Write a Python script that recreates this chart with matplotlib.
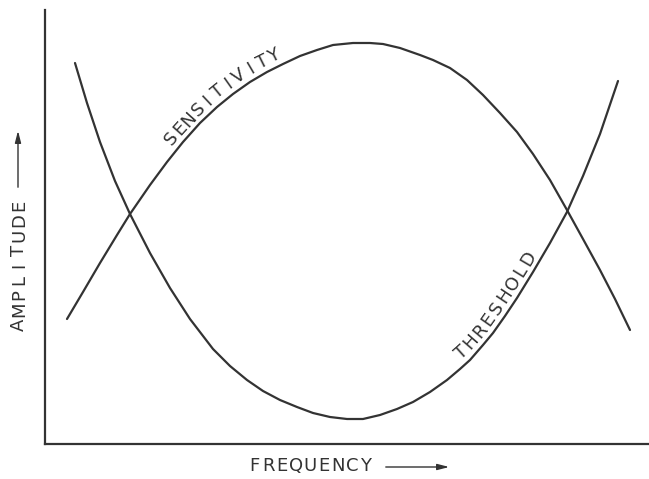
import numpy as np
import matplotlib.pyplot as plt

# curve points (frequency, amplitude; arbitrary units)
sens_x = [22, 38, 55, 72, 85, 105, 122, 138, 155, 172, 188, 205, 222, 238, 255, 272, 288, 308,
          325, 338, 355, 375, 388, 405, 422, 438, 455, 472, 488, 505, 522, 538, 555, 570, 585]
sens_y = [125, 152, 181, 209, 230, 259, 282, 302, 321, 337, 350, 362, 372, 380, 388, 394, 399, 401,
          401, 400, 396, 389, 384, 376, 364, 349, 331, 312, 290, 264, 234, 205, 174, 145, 114]

thr_x = [30, 42, 55, 70, 85, 105, 125, 145, 168, 185, 202, 218, 235, 252, 268, 285, 302, 318,
         335, 352, 368, 385, 402, 415, 425, 438, 448, 460, 472, 488, 505, 522, 538, 555, 573]
thr_y = [381, 341, 302, 263, 230, 191, 156, 125, 95, 78, 64, 53, 44, 37, 31, 27, 25, 25,
         29, 35, 42, 52, 64, 75, 84, 99, 111, 128, 146, 172, 201, 232, 268, 310, 363]

x_label = 'FREQUENCY'
y_label = 'AMPLITUDE'

ink = '#333333'

fig = plt.figure(figsize=(6.49, 4.79), dpi=100)
ax = fig.add_axes([45 / 649, 35 / 479, 604 / 649, 434 / 479])
ax.set_xlim(0, 604)
ax.set_ylim(0, 434)
ax.set_xticks([])
ax.set_yticks([])
for side in ['top', 'right']:
    ax.spines[side].set_visible(False)
for side in ['left', 'bottom']:
    ax.spines[side].set_color(ink)
    ax.spines[side].set_linewidth(1.6)

ax.plot(sens_x, sens_y, color=ink, lw=1.6, solid_joinstyle='round', solid_capstyle='round')
ax.plot(thr_x, thr_y, color=ink, lw=1.6, solid_joinstyle='round', solid_capstyle='round')


def path_text(pts, text, s0, step, gap=2.0, size=13, va='bottom'):
    # letters one by one along a path given in display pixels
    seg = np.hypot(np.diff(pts[:, 0]), np.diff(pts[:, 1]))
    s = np.concatenate([[0], np.cumsum(seg)])
    for i, ch in enumerate(text):
        si = s0 + step * (i + 0.5)
        k = int(np.clip(np.searchsorted(s, si) - 1, 0, len(seg) - 1))
        t = (si - s[k]) / seg[k]
        p = pts[k] + t * (pts[k + 1] - pts[k])
        d = (pts[k + 1] - pts[k]) / seg[k]
        q = p + np.array([-d[1], d[0]]) * gap
        ang = np.degrees(np.arctan2(d[1], d[0]))
        fig.text(q[0] / fig.bbox.width, q[1] / fig.bbox.height, ch,
                 rotation=ang, rotation_mode='anchor', ha='center', va=va,
                 fontsize=size, color=ink)


def curve_text(xs, ys, text, x_start, step):
    pts = ax.transData.transform(np.column_stack([xs, ys]))
    seg = np.hypot(np.diff(pts[:, 0]), np.diff(pts[:, 1]))
    s = np.concatenate([[0], np.cumsum(seg)])
    x0 = ax.transData.transform((x_start, 0))[0]
    path_text(pts, text, np.interp(x0, pts[:, 0], s), step)


curve_text(sens_x, sens_y, 'SENSITIVITY', 131, 12.8)
curve_text(thr_x, thr_y, 'THRESHOLD', 419, 14.8)

# axis titles, spaced like the stencil lettering (figure pixels)
path_text(np.array([[19.0, 147.0], [19.0, 281.0]]), y_label, 0, 134 / 9, gap=0, va='center')
path_text(np.array([[247.0, 13.0], [373.0, 13.0]]), x_label, 0, 126 / 9, gap=0, va='center')

arrow = dict(arrowstyle='-|>,head_length=0.7,head_width=0.18', color=ink, lw=1.0)
ax.annotate('', xy=(18, 351), xytext=(18, 289), xycoords='figure pixels',
            textcoords='figure pixels', arrowprops=arrow, annotation_clip=False)
ax.annotate('', xy=(452, 12), xytext=(383, 12), xycoords='figure pixels',
            textcoords='figure pixels', arrowprops=arrow, annotation_clip=False)

fig.savefig('out.png', dpi=100)
